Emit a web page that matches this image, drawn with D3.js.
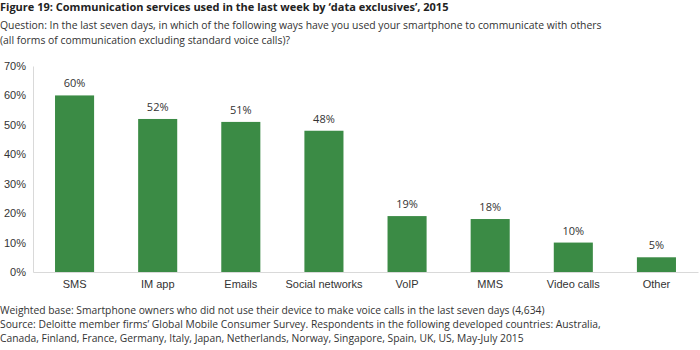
<!DOCTYPE html>
<html>
<head>
<meta charset="utf-8">
<script src="https://cdn.jsdelivr.net/npm/d3@7"></script>
<style>
  body { margin: 0; background: #fff; }
  svg { font-family: "Open Sans", "DejaVu Sans", sans-serif; }
  .txt { fill: #333; font-size: 11px; }
  .q { font-size: 10.4px; }
  .foot { font-size: 10.3px; }
  .title { fill: #222; font-size: 11px; font-weight: bold; }
  .axis text { fill: #333; font-size: 11px; }
  .axis .domain { stroke: #d9d9d9; }
  .axis line { display: none; }
</style>
</head>
<body>
<div id="chart"></div>
<script>
const categories = ['SMS', 'IM app', 'Emails', 'Social networks', 'VoIP', 'MMS', 'Video calls', 'Other'];
const values = [60, 52, 51, 48, 19, 18, 10, 5];
const yTicks = [0, 10, 20, 30, 40, 50, 60, 70];

const titleText = 'Figure 19: Communication services used in the last week by \u2018data exclusives\u2019, 2015';
const questionLines = [
    'Question: In the last seven days, in which of the following ways have you used your smartphone to communicate with others',
    '(all forms of communication excluding standard voice calls)?'
];
const footerLines = [
    'Weighted base: Smartphone owners who did not use their device to make voice calls in the last seven days (4,634)',
    'Source: Deloitte member firms\u2019 Global Mobile Consumer Survey. Respondents in the following developed countries: Australia,',
    'Canada, Finland, France, Germany, Italy, Japan, Netherlands, Norway, Singapore, Spain, UK, US, May-July 2015'
];

const W = 700, H = 350;
const margin = { top: 66, right: 2, bottom: 78, left: 33 };
const width = W - margin.left - margin.right;
const height = H - margin.top - margin.bottom;

const svg = d3.select('#chart').append('svg')
    .attr('width', W)
    .attr('height', H);

svg.append('text').attr('class', 'title')
    .attr('x', 0).attr('y', 11)
    .text(titleText);

svg.selectAll('.q')
    .data(questionLines)
    .enter().append('text')
    .attr('class', 'txt q')
    .attr('x', 0)
    .attr('y', (d, i) => 29 + i * 15)
    .text(d => d);

svg.selectAll('.foot')
    .data(footerLines)
    .enter().append('text')
    .attr('class', 'txt foot')
    .attr('x', 0)
    .attr('y', (d, i) => 314 + i * 14.2)
    .text(d => d);

const g = svg.append('g')
    .attr('transform', `translate(${margin.left},${margin.top})`);

const x = d3.scaleBand()
    .domain(categories)
    .range([0, width])
    .paddingInner(0.53)
    .paddingOuter(0.265);

const y = d3.scaleLinear()
    .domain([0, 70])
    .range([height, 0]);

g.selectAll('.bar')
    .data(values)
    .enter().append('rect')
    .attr('class', 'bar')
    .attr('x', (d, i) => x(categories[i]))
    .attr('y', d => y(d))
    .attr('width', x.bandwidth())
    .attr('height', d => height - y(d))
    .attr('fill', '#3b8b45');

g.selectAll('.bar-label')
    .data(values)
    .enter().append('text')
    .attr('class', 'txt bar-label')
    .attr('x', (d, i) => x(categories[i]) + x.bandwidth() / 2)
    .attr('y', d => y(d) - 8)
    .attr('text-anchor', 'middle')
    .text(d => d + '%');

g.append('g')
    .attr('class', 'axis')
    .call(d3.axisLeft(y).tickValues(yTicks).tickSize(0).tickPadding(6).tickFormat(d => d + '%'))
    .selectAll('text')
    .attr('text-anchor', 'end')
    .attr('x', -7);

g.append('g')
    .attr('class', 'axis')
    .attr('transform', `translate(0,${height})`)
    .call(d3.axisBottom(x).tickSize(0).tickPadding(8));
</script>
</body>
</html>
